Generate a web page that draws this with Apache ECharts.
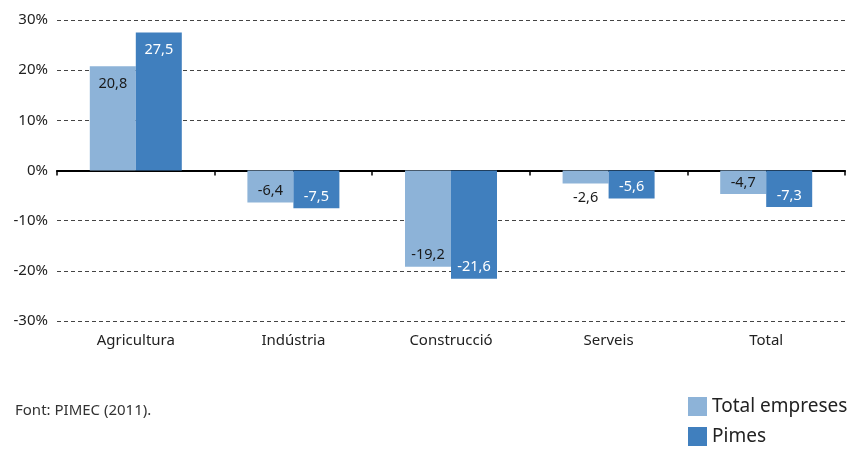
<!DOCTYPE html>
<html>
<head>
<meta charset="utf-8">
<script src="https://cdn.jsdelivr.net/npm/echarts@6/dist/echarts.min.js"></script>
<style>
html,body{margin:0;padding:0;background:#fff;}
#chart{width:850px;height:451px;}
</style>
</head>
<body>
<div id="chart"></div>
<script>
// sectors
var categories = ['Agricultura', 'Indústria', 'Construcció', 'Serveis', 'Total'];
// variacio (%)
var totalEmpreses = [20.8, -6.4, -19.2, -2.6, -4.7];
var pimes = [27.5, -7.5, -21.6, -5.6, -7.3];
var seriesNames = ['Total empreses', 'Pimes'];
var yTicks = [-30, -20, -10, 0, 10, 20, 30];
var font = '"Noto Sans", sans-serif';

// etiqueta dins l'extrem de la barra; si la barra es massa curta, a fora
function fesDades(vals, color) {
    var out = [];
    for (var i = 0; i < vals.length; i++) {
        var v = vals[i];
        var lab;
        if (v >= 0) {
            lab = {position: 'insideTop', distance: 10};
        } else if (v > -3) {
            lab = {position: 'bottom', distance: 7};
        } else {
            lab = {position: 'insideBottom', distance: 4};
        }
        lab.color = color;
        out.push({value: v, label: lab});
    }
    return out;
}

var myChart = echarts.init(document.getElementById('chart'));
var option = {
    animation: false,
    textStyle: {fontFamily: font},
    grid: {left: 57, right: 5, top: 20, bottom: 130},
    legend: {
        orient: 'vertical',
        left: 688,
        top: 397,
        padding: 0,
        icon: 'rect',
        itemWidth: 19,
        itemHeight: 19,
        itemGap: 11,
        textStyle: {fontSize: 19, color: '#222', fontFamily: font},
        data: seriesNames
    },
    graphic: [{
        type: 'text',
        left: 15,
        top: 403,
        style: {text: 'Font: PIMEC (2011).', fontSize: 15, fill: '#333', fontFamily: font}
    }],
    xAxis: [
        {
            type: 'category',
            data: categories,
            axisLine: {onZero: true, lineStyle: {color: '#000', width: 2}},
            axisTick: {show: true, length: 5, lineStyle: {color: '#000', width: 1.5}},
            axisLabel: {show: false}
        },
        {
            type: 'category',
            data: categories,
            position: 'bottom',
            axisLine: {show: false, onZero: false},
            axisTick: {show: false},
            axisLabel: {fontSize: 15, color: '#222', margin: 12, fontFamily: font}
        }
    ],
    yAxis: {
        type: 'value',
        min: yTicks[0],
        max: yTicks[yTicks.length - 1],
        interval: 10,
        axisLine: {show: false},
        axisTick: {show: false},
        axisLabel: {
            fontSize: 15, color: '#222', margin: 9, fontFamily: font,
            formatter: '{value}%'
        },
        splitLine: {lineStyle: {color: '#444', type: [4, 3], width: 1}}
    },
    series: [
        {
            name: seriesNames[0],
            type: 'bar',
            barWidth: 46,
            barGap: '0%',
            itemStyle: {color: '#8db3d8'},
            label: {
                show: true, fontSize: 14.5, fontFamily: font,
                formatter: function (p) { return String(p.value).replace('.', ','); }
            },
            data: fesDades(totalEmpreses, '#1a1a1a')
        },
        {
            name: seriesNames[1],
            type: 'bar',
            barWidth: 46,
            barGap: '0%',
            itemStyle: {color: '#407fbe'},
            label: {
                show: true, fontSize: 14.5, fontFamily: font,
                formatter: function (p) { return String(p.value).replace('.', ','); }
            },
            data: fesDades(pimes, '#ffffff')
        }
    ]
};
myChart.setOption(option);
</script>
</body>
</html>
